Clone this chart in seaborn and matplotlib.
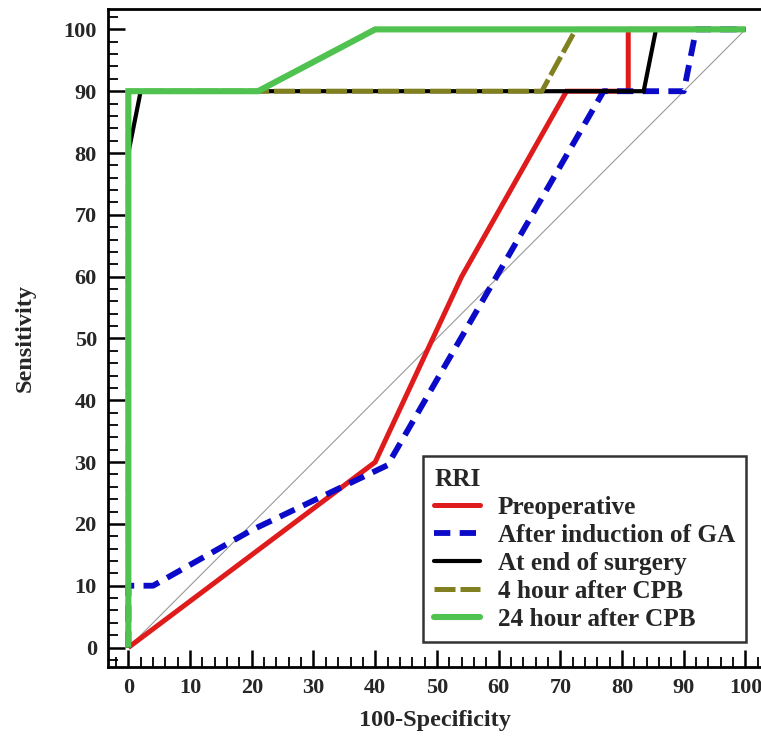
import matplotlib
matplotlib.use("Agg")
import matplotlib.pyplot as plt
import seaborn as sns
from matplotlib.ticker import MultipleLocator
from matplotlib.lines import Line2D

# ==============================
# DATA
# ==============================
pre_x = [0, 40, 54, 71, 81, 81, 100]
pre_y = [0, 30, 60, 90, 90, 100, 100]

ga_x = [0, 0, 4, 20, 42, 77, 90, 92, 100]
ga_y = [0, 10, 10, 19, 29.5, 90, 90, 100, 100]

end_x = [0, 0, 2, 83.5, 85.5, 100]
end_y = [0, 80, 90, 90, 100, 100]

h4_x = [0, 0, 67, 72.5, 100]
h4_y = [0, 90, 90, 100, 100]

h24_x = [0, 0, 21, 40, 100]
h24_y = [0, 90, 90, 100, 100]

ref_x = [0, 100]
ref_y = [0, 100]

labels = ["Preoperative", "After induction of GA", "At end of surgery",
          "4 hour after CPB", "24 hour after CPB"]

# ==============================
# STYLE
# ==============================
sns.set_style("ticks")
plt.rcParams["font.family"] = ["Liberation Serif", "DejaVu Serif"]
plt.rcParams["font.weight"] = "bold"

fig = plt.figure(figsize=(7.61, 7.37), dpi=100)
ax = fig.add_axes([0.1419, 0.0954, 0.858, 0.8924])

# thin reference diagonal
sns.lineplot(x=ref_x, y=ref_y, ax=ax, color="#9a9a9a", lw=0.8,
             sort=False, estimator=None)

series = [
    (pre_x, pre_y, dict(color="#e01b1b", lw=3.6, linestyle="-")),
    (ga_x, ga_y, dict(color="#0a0ac8", lw=4.2, linestyle=(0, (2.8, 1.6)))),
    (end_x, end_y, dict(color="#000000", lw=3.0, linestyle="-")),
    (h4_x, h4_y, dict(color="#808020", lw=3.6, linestyle=(0, (4.2, 1.0)))),
    (h24_x, h24_y, dict(color="#4fc24f", lw=4.4, linestyle="-")),
]

handles = []
for (xs, ys, kw), lab in zip(series, labels):
    sns.lineplot(x=xs, y=ys, ax=ax, sort=False, estimator=None,
                 solid_capstyle="butt", solid_joinstyle="miter", **kw)
    handles.append(Line2D([0], [0], **kw))

ax.set_xlim(-3.3, 102.5)
ax.set_ylim(-3.1, 103.3)
ax.xaxis.set_major_locator(MultipleLocator(10))
ax.xaxis.set_minor_locator(MultipleLocator(2))
ax.yaxis.set_major_locator(MultipleLocator(10))
ax.yaxis.set_minor_locator(MultipleLocator(2))
ax.tick_params(which="major", direction="in", length=12, width=1.8,
               labelsize=16, color="black", pad=8)
ax.tick_params(which="minor", direction="in", length=7, width=1.3, color="black")
ax.tick_params(top=False, right=False, which="both")
for lbl in ax.get_xticklabels() + ax.get_yticklabels():
    lbl.set_fontweight("bold")

for side in ["left", "bottom", "top"]:
    ax.spines[side].set_linewidth(2)
    ax.spines[side].set_color("black")
ax.spines["right"].set_visible(False)

ax.set_xlabel("100-Specificity", fontsize=17.5, fontweight="bold", labelpad=9)
ax.set_ylabel("Sensitivity", fontsize=17.5, fontweight="bold", labelpad=20)

leg = ax.legend(handles, labels, title="RRI", loc="lower left",
                bbox_to_anchor=(0.463, 0.018), frameon=True, fancybox=False,
                prop={"family": "Liberation Serif", "weight": "bold", "size": 18.2},
                title_fontproperties={"family": "Liberation Serif", "weight": "bold", "size": 18.2},
                alignment="left", handlelength=1.8, handletextpad=0.7,
                labelspacing=0.2, borderpad=0.45)
leg.get_frame().set_edgecolor("black")
leg.get_frame().set_linewidth(1.8)

fig.savefig("out.png", dpi=100)
